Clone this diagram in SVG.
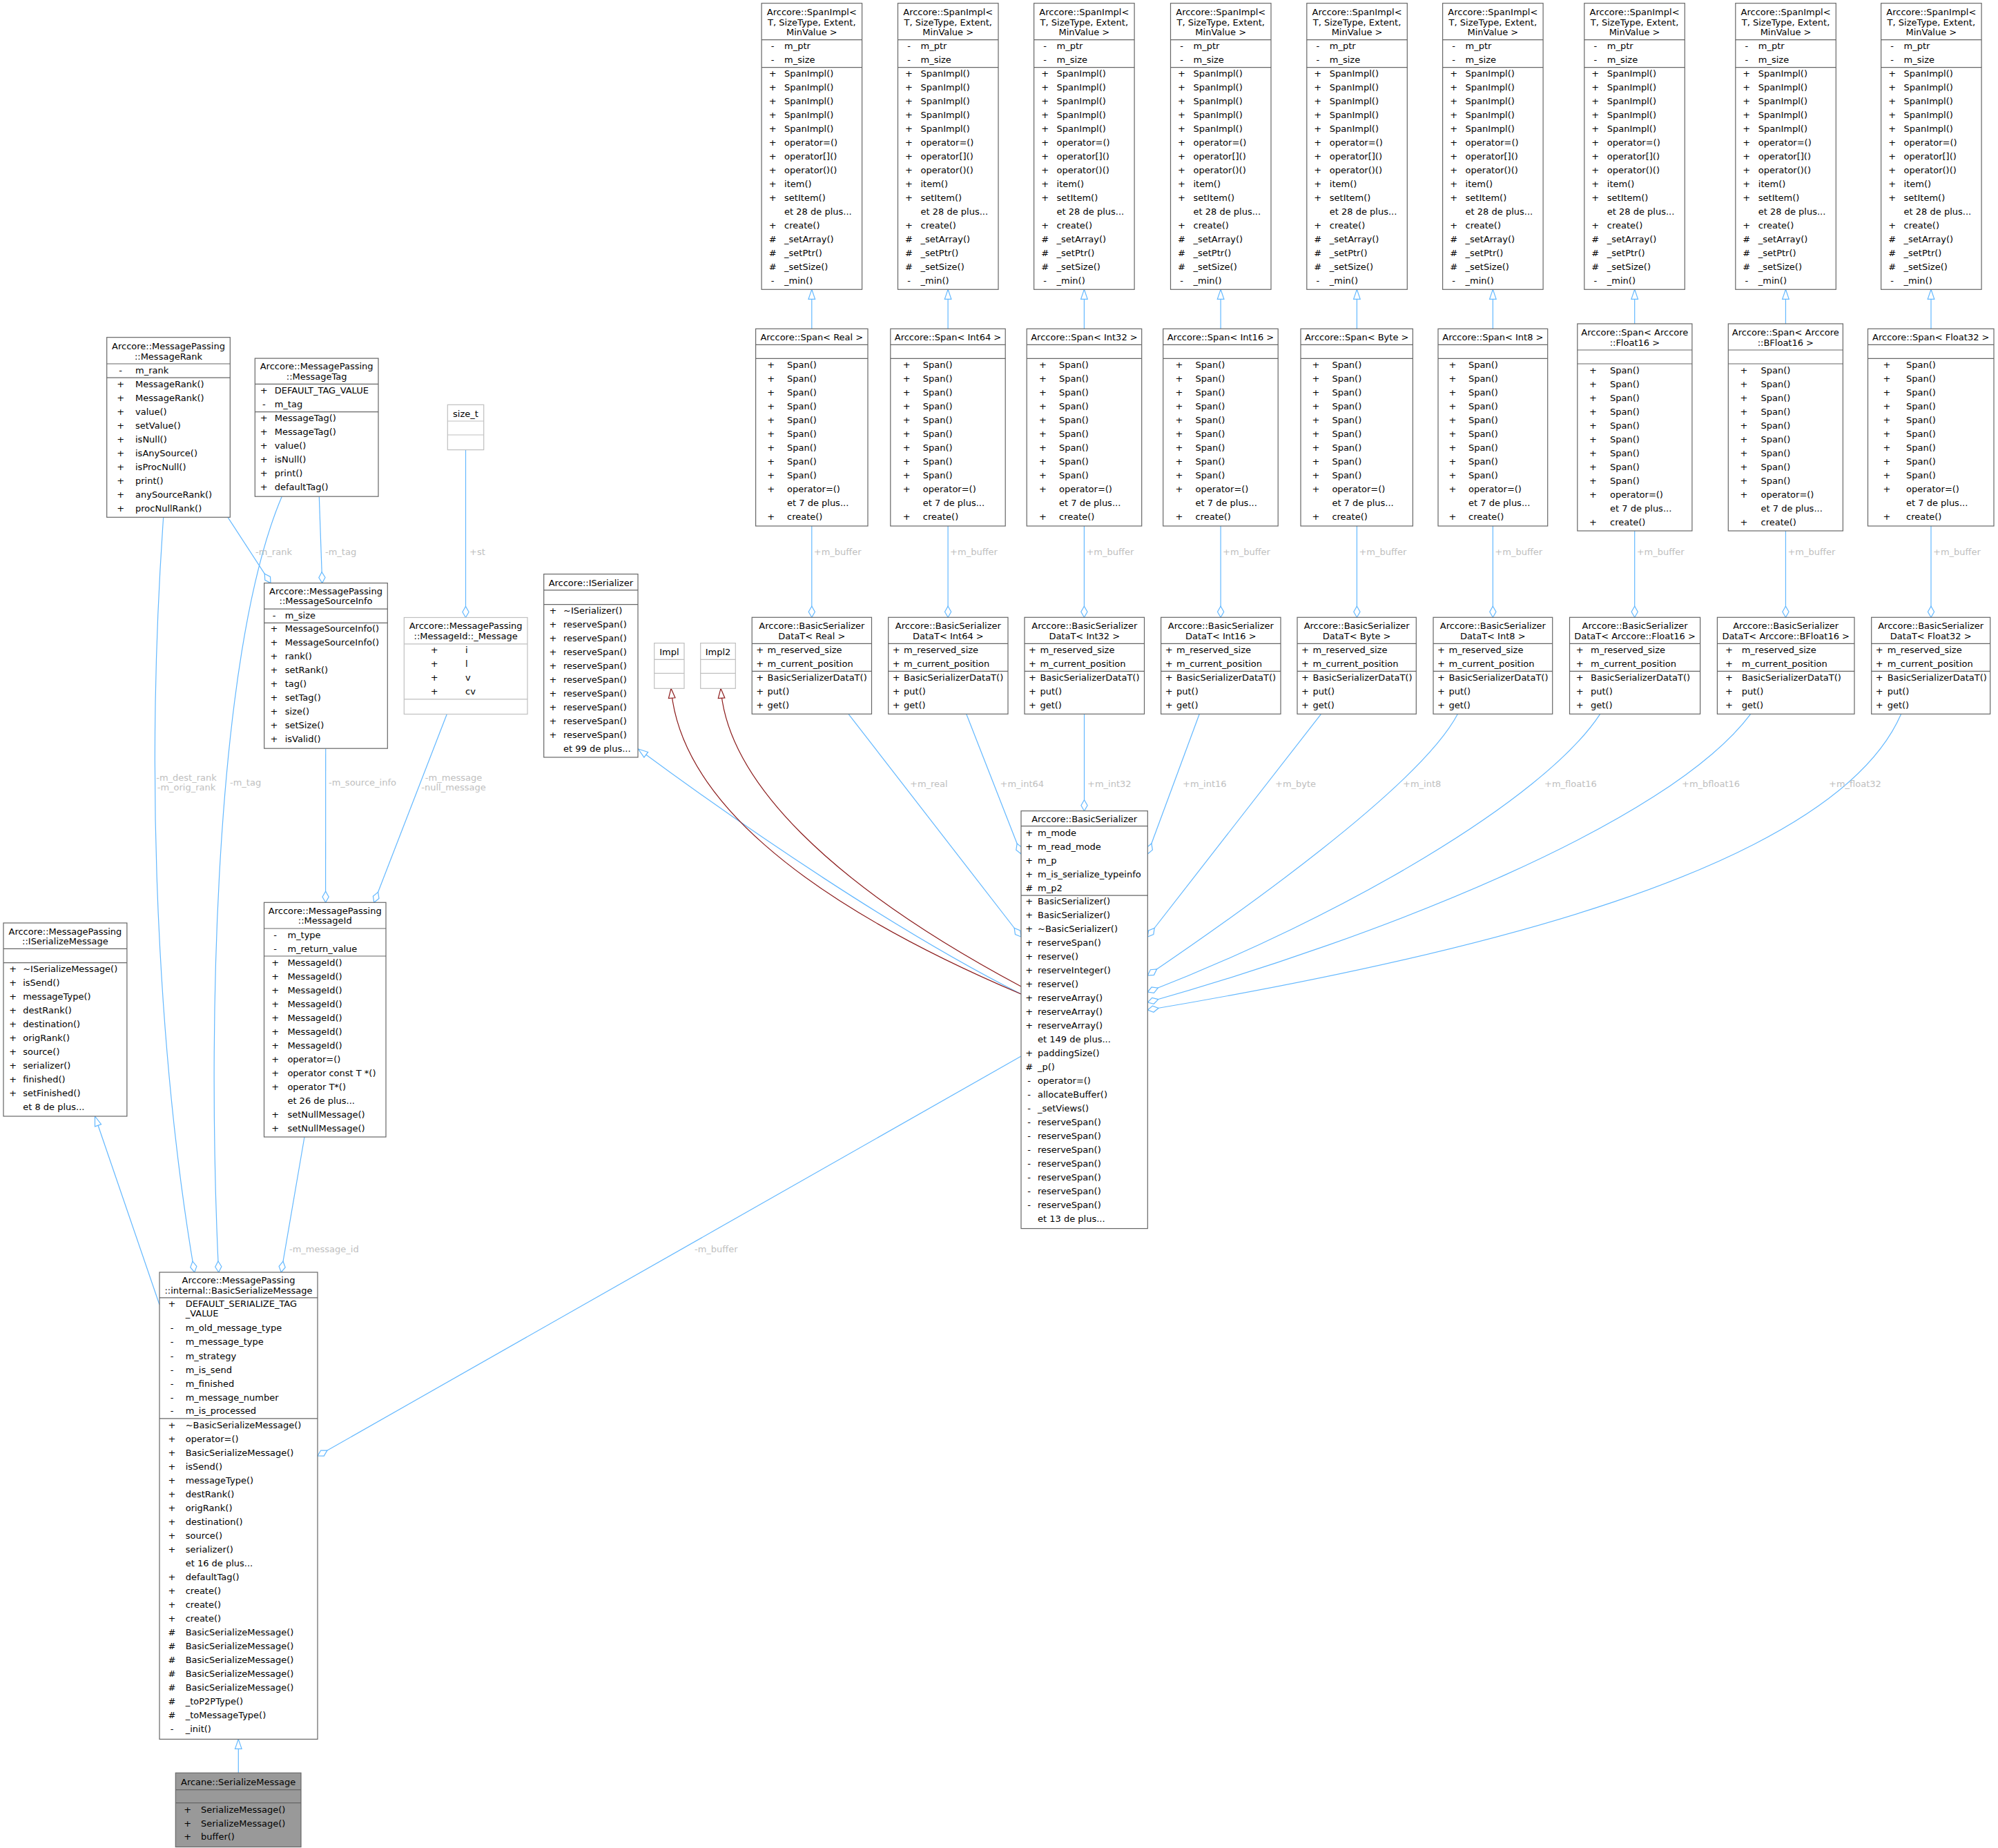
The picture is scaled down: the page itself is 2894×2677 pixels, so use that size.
<svg xmlns="http://www.w3.org/2000/svg" width="2894" height="2677" viewBox="0 0 2894 2677">
<style>
text{font-family:"DejaVu Sans","Liberation Sans",sans-serif;font-size:13px;fill:#000}
.c{text-anchor:middle}
.nb{fill:#fff;stroke:#666;stroke-width:1.2}
.ne{fill:#fff;stroke:#bfbfbf;stroke-width:1.2}
.cur{fill:#999;stroke:#666;stroke-width:1.2}
.sep{stroke:#666;stroke-width:1.2;fill:none}
.sepe{stroke:#bfbfbf;stroke-width:1.2;fill:none}
.e{fill:none;stroke:#63b8ff;stroke-width:1.2}
.er{fill:none;stroke:#8b1a1a;stroke-width:1.2}
.l{fill:#bebebe}
.l.c{fill:#bebebe}
</style>
<defs>
<marker id="inh" markerUnits="userSpaceOnUse" markerWidth="18" markerHeight="14" viewBox="-1 -7 18 14" refX="0" refY="0" orient="auto" overflow="visible"><path d="M0,0L14,-4.8L14,4.8Z" fill="#fff" stroke="#63b8ff" stroke-width="1.2"/></marker>
<marker id="inhr" markerUnits="userSpaceOnUse" markerWidth="18" markerHeight="14" viewBox="-1 -7 18 14" refX="0" refY="0" orient="auto" overflow="visible"><path d="M0,0L14,-4.8L14,4.8Z" fill="#fff" stroke="#8b1a1a" stroke-width="1.2"/></marker>
<marker id="dia" markerUnits="userSpaceOnUse" markerWidth="18" markerHeight="12" viewBox="-1 -6 18 12" refX="0" refY="0" orient="auto" overflow="visible"><path d="M0,0L8,-4.6L16,0L8,4.6Z" fill="#fff" stroke="#63b8ff" stroke-width="1.2"/></marker>
</defs>
<rect width="2894" height="2677" fill="#fff"/>

<g id="edges">
<g class="e" marker-start="url(#inh)">
<path d="M1175.8,419.3V476.3"/><path d="M1373.1,419.3V476.3"/><path d="M1570.4,419.3V476.3"/><path d="M1768.1,419.3V476.3"/><path d="M1965.4,419.3V476.3"/><path d="M2162.35,419.3V476.3"/><path d="M2367.7,419.3V469"/><path d="M2586.45,419.3V469"/><path d="M2797,419.3V476.3"/>
<path d="M924.5,1085C1080,1200 1300,1350 1479,1440"/>
<path d="M137.5,1617L231,1890"/>
<path d="M345.3,2519.4V2568.2"/>
</g>
<g class="er" marker-start="url(#inhr)">
<path d="M972,997.3C985,1150 1150,1300 1479,1440"/>
<path d="M1044,997.3C1054,1130 1200,1280 1479,1429"/>
</g>
<g class="e" marker-start="url(#dia)">
<path d="M1175.8,894.3V762"/><path d="M1373.1,894.3V762"/><path d="M1570.4,894.3V762"/><path d="M1768.1,894.3V762"/><path d="M1965.4,894.3V762"/><path d="M2162.35,894.3V762"/><path d="M2367.7,894.3V769"/><path d="M2586.45,894.3V769"/><path d="M2797,894.3V762"/>
<path d="M1479,1357L1229,1034.3"/>
<path d="M1479,1237L1399.7,1034.3"/>
<path d="M1570.5,1174.7V1034.3"/>
<path d="M1662.3,1237L1737.3,1034.3"/>
<path d="M1662.3,1357L1913.5,1034.3"/>
<path d="M1662.3,1413C1786,1329 2056,1140 2111.4,1034.3"/>
<path d="M1662.3,1437C1941,1329 2235,1160 2317.7,1034.3"/>
<path d="M1662.3,1452C1998,1357 2416,1194 2535.7,1034.3"/>
<path d="M1662.3,1463C2106,1388 2654,1264 2753.7,1034.3"/>
<path d="M460,2109L1479,1530"/>
<path d="M281.7,1843C240,1600 205,1200 236.7,749.3"/>
<path d="M316.7,1843C300,1500 310,950 408.3,719.2"/>
<path d="M392,844.6L330,749.3"/>
<path d="M466.7,844.6L462.3,719.2"/>
<path d="M674.5,894.5V651.6"/>
<path d="M471.6,1307.3L471.7,1084.2"/>
<path d="M541.8,1307.3L647.3,1034.5"/>
<path d="M407.3,1843L441,1647"/>
</g>
<g class="l">
<text class="l" x="1178.8" y="803.8">+m_buffer</text><text class="l" x="1376.1" y="803.8">+m_buffer</text><text class="l" x="1573.4" y="803.8">+m_buffer</text><text class="l" x="1771.1" y="803.8">+m_buffer</text><text class="l" x="1968.4" y="803.8">+m_buffer</text><text class="l" x="2165.35" y="803.8">+m_buffer</text><text class="l" x="2370.7" y="803.8">+m_buffer</text><text class="l" x="2589.45" y="803.8">+m_buffer</text><text class="l" x="2800" y="803.8">+m_buffer</text>
<text class="l" x="1318" y="1139.6">+m_real</text>
<text class="l" x="1448.5" y="1139.6">+m_int64</text>
<text class="l" x="1575" y="1139.6">+m_int32</text>
<text class="l" x="1713" y="1139.6">+m_int16</text>
<text class="l" x="1847" y="1139.6">+m_byte</text>
<text class="l" x="2032" y="1139.6">+m_int8</text>
<text class="l" x="2237" y="1139.6">+m_float16</text>
<text class="l" x="2436" y="1139.6">+m_bfloat16</text>
<text class="l" x="2649" y="1139.6">+m_float32</text>
<text class="l" x="370" y="804">-m_rank</text>
<text class="l" x="471" y="804">-m_tag</text>
<text class="l" x="680" y="804.4">+st</text>
<text class="l c"><tspan x="270" y="1130.6">-m_dest_rank</tspan><tspan x="270" y="1145.2">-m_orig_rank</tspan></text>
<text class="l" x="333" y="1137.6">-m_tag</text>
<text class="l" x="476" y="1137.6">-m_source_info</text>
<text class="l c"><tspan x="657" y="1130.6">-m_message</tspan><tspan x="657" y="1145.2">-null_message</tspan></text>
<text class="l" x="419" y="1813.6">-m_message_id</text>
<text class="l" x="1006" y="1813.6">-m_buffer</text>
</g>
</g>

<g id="spanimpl_real"><rect class="nb" x="1103.1" y="4.7" width="145.5" height="414.6"/><path class="sep" d="M1103.1,57.7h145.5M1103.1,97.7h145.5"/>
<text class="c"><tspan x="1175.85" y="21.9">Arccore::SpanImpl&lt;</tspan><tspan x="1175.85" y="36.9">T, SizeType, Extent,</tspan><tspan x="1175.85" y="51.3">MinValue &gt;</tspan></text>
<text class="c"><tspan x="1119.1" y="71.3">-</tspan><tspan x="1119.1" y="91.3">-</tspan><tspan x="1119.1" y="111.3">+</tspan><tspan x="1119.1" y="131.3">+</tspan><tspan x="1119.1" y="151.3">+</tspan><tspan x="1119.1" y="171.3">+</tspan><tspan x="1119.1" y="191.3">+</tspan><tspan x="1119.1" y="211.3">+</tspan><tspan x="1119.1" y="231.3">+</tspan><tspan x="1119.1" y="251.3">+</tspan><tspan x="1119.1" y="271.3">+</tspan><tspan x="1119.1" y="291.3">+</tspan><tspan x="1119.1" y="331.3">+</tspan><tspan x="1119.1" y="351.3">#</tspan><tspan x="1119.1" y="371.3">#</tspan><tspan x="1119.1" y="391.3">#</tspan><tspan x="1119.1" y="411.3">-</tspan></text>
<text><tspan x="1136.1" y="71.3">m_ptr</tspan><tspan x="1136.1" y="91.3">m_size</tspan><tspan x="1136.1" y="111.3">SpanImpl()</tspan><tspan x="1136.1" y="131.3">SpanImpl()</tspan><tspan x="1136.1" y="151.3">SpanImpl()</tspan><tspan x="1136.1" y="171.3">SpanImpl()</tspan><tspan x="1136.1" y="191.3">SpanImpl()</tspan><tspan x="1136.1" y="211.3">operator=()</tspan><tspan x="1136.1" y="231.3">operator[]()</tspan><tspan x="1136.1" y="251.3">operator()()</tspan><tspan x="1136.1" y="271.3">item()</tspan><tspan x="1136.1" y="291.3">setItem()</tspan><tspan x="1136.1" y="311.3">et 28 de plus...</tspan><tspan x="1136.1" y="331.3">create()</tspan><tspan x="1136.1" y="351.3">_setArray()</tspan><tspan x="1136.1" y="371.3">_setPtr()</tspan><tspan x="1136.1" y="391.3">_setSize()</tspan><tspan x="1136.1" y="411.3">_min()</tspan></text></g>

<g id="spanimpl_int64"><rect class="nb" x="1300.5" y="4.7" width="145.5" height="414.6"/><path class="sep" d="M1300.5,57.7h145.5M1300.5,97.7h145.5"/>
<text class="c"><tspan x="1373.25" y="21.9">Arccore::SpanImpl&lt;</tspan><tspan x="1373.25" y="36.9">T, SizeType, Extent,</tspan><tspan x="1373.25" y="51.3">MinValue &gt;</tspan></text>
<text class="c"><tspan x="1316.5" y="71.3">-</tspan><tspan x="1316.5" y="91.3">-</tspan><tspan x="1316.5" y="111.3">+</tspan><tspan x="1316.5" y="131.3">+</tspan><tspan x="1316.5" y="151.3">+</tspan><tspan x="1316.5" y="171.3">+</tspan><tspan x="1316.5" y="191.3">+</tspan><tspan x="1316.5" y="211.3">+</tspan><tspan x="1316.5" y="231.3">+</tspan><tspan x="1316.5" y="251.3">+</tspan><tspan x="1316.5" y="271.3">+</tspan><tspan x="1316.5" y="291.3">+</tspan><tspan x="1316.5" y="331.3">+</tspan><tspan x="1316.5" y="351.3">#</tspan><tspan x="1316.5" y="371.3">#</tspan><tspan x="1316.5" y="391.3">#</tspan><tspan x="1316.5" y="411.3">-</tspan></text>
<text><tspan x="1333.5" y="71.3">m_ptr</tspan><tspan x="1333.5" y="91.3">m_size</tspan><tspan x="1333.5" y="111.3">SpanImpl()</tspan><tspan x="1333.5" y="131.3">SpanImpl()</tspan><tspan x="1333.5" y="151.3">SpanImpl()</tspan><tspan x="1333.5" y="171.3">SpanImpl()</tspan><tspan x="1333.5" y="191.3">SpanImpl()</tspan><tspan x="1333.5" y="211.3">operator=()</tspan><tspan x="1333.5" y="231.3">operator[]()</tspan><tspan x="1333.5" y="251.3">operator()()</tspan><tspan x="1333.5" y="271.3">item()</tspan><tspan x="1333.5" y="291.3">setItem()</tspan><tspan x="1333.5" y="311.3">et 28 de plus...</tspan><tspan x="1333.5" y="331.3">create()</tspan><tspan x="1333.5" y="351.3">_setArray()</tspan><tspan x="1333.5" y="371.3">_setPtr()</tspan><tspan x="1333.5" y="391.3">_setSize()</tspan><tspan x="1333.5" y="411.3">_min()</tspan></text></g>

<g id="spanimpl_int32"><rect class="nb" x="1497.6" y="4.7" width="145.5" height="414.6"/><path class="sep" d="M1497.6,57.7h145.5M1497.6,97.7h145.5"/>
<text class="c"><tspan x="1570.35" y="21.9">Arccore::SpanImpl&lt;</tspan><tspan x="1570.35" y="36.9">T, SizeType, Extent,</tspan><tspan x="1570.35" y="51.3">MinValue &gt;</tspan></text>
<text class="c"><tspan x="1513.6" y="71.3">-</tspan><tspan x="1513.6" y="91.3">-</tspan><tspan x="1513.6" y="111.3">+</tspan><tspan x="1513.6" y="131.3">+</tspan><tspan x="1513.6" y="151.3">+</tspan><tspan x="1513.6" y="171.3">+</tspan><tspan x="1513.6" y="191.3">+</tspan><tspan x="1513.6" y="211.3">+</tspan><tspan x="1513.6" y="231.3">+</tspan><tspan x="1513.6" y="251.3">+</tspan><tspan x="1513.6" y="271.3">+</tspan><tspan x="1513.6" y="291.3">+</tspan><tspan x="1513.6" y="331.3">+</tspan><tspan x="1513.6" y="351.3">#</tspan><tspan x="1513.6" y="371.3">#</tspan><tspan x="1513.6" y="391.3">#</tspan><tspan x="1513.6" y="411.3">-</tspan></text>
<text><tspan x="1530.6" y="71.3">m_ptr</tspan><tspan x="1530.6" y="91.3">m_size</tspan><tspan x="1530.6" y="111.3">SpanImpl()</tspan><tspan x="1530.6" y="131.3">SpanImpl()</tspan><tspan x="1530.6" y="151.3">SpanImpl()</tspan><tspan x="1530.6" y="171.3">SpanImpl()</tspan><tspan x="1530.6" y="191.3">SpanImpl()</tspan><tspan x="1530.6" y="211.3">operator=()</tspan><tspan x="1530.6" y="231.3">operator[]()</tspan><tspan x="1530.6" y="251.3">operator()()</tspan><tspan x="1530.6" y="271.3">item()</tspan><tspan x="1530.6" y="291.3">setItem()</tspan><tspan x="1530.6" y="311.3">et 28 de plus...</tspan><tspan x="1530.6" y="331.3">create()</tspan><tspan x="1530.6" y="351.3">_setArray()</tspan><tspan x="1530.6" y="371.3">_setPtr()</tspan><tspan x="1530.6" y="391.3">_setSize()</tspan><tspan x="1530.6" y="411.3">_min()</tspan></text></g>

<g id="spanimpl_int16"><rect class="nb" x="1695.5" y="4.7" width="145.5" height="414.6"/><path class="sep" d="M1695.5,57.7h145.5M1695.5,97.7h145.5"/>
<text class="c"><tspan x="1768.25" y="21.9">Arccore::SpanImpl&lt;</tspan><tspan x="1768.25" y="36.9">T, SizeType, Extent,</tspan><tspan x="1768.25" y="51.3">MinValue &gt;</tspan></text>
<text class="c"><tspan x="1711.5" y="71.3">-</tspan><tspan x="1711.5" y="91.3">-</tspan><tspan x="1711.5" y="111.3">+</tspan><tspan x="1711.5" y="131.3">+</tspan><tspan x="1711.5" y="151.3">+</tspan><tspan x="1711.5" y="171.3">+</tspan><tspan x="1711.5" y="191.3">+</tspan><tspan x="1711.5" y="211.3">+</tspan><tspan x="1711.5" y="231.3">+</tspan><tspan x="1711.5" y="251.3">+</tspan><tspan x="1711.5" y="271.3">+</tspan><tspan x="1711.5" y="291.3">+</tspan><tspan x="1711.5" y="331.3">+</tspan><tspan x="1711.5" y="351.3">#</tspan><tspan x="1711.5" y="371.3">#</tspan><tspan x="1711.5" y="391.3">#</tspan><tspan x="1711.5" y="411.3">-</tspan></text>
<text><tspan x="1728.5" y="71.3">m_ptr</tspan><tspan x="1728.5" y="91.3">m_size</tspan><tspan x="1728.5" y="111.3">SpanImpl()</tspan><tspan x="1728.5" y="131.3">SpanImpl()</tspan><tspan x="1728.5" y="151.3">SpanImpl()</tspan><tspan x="1728.5" y="171.3">SpanImpl()</tspan><tspan x="1728.5" y="191.3">SpanImpl()</tspan><tspan x="1728.5" y="211.3">operator=()</tspan><tspan x="1728.5" y="231.3">operator[]()</tspan><tspan x="1728.5" y="251.3">operator()()</tspan><tspan x="1728.5" y="271.3">item()</tspan><tspan x="1728.5" y="291.3">setItem()</tspan><tspan x="1728.5" y="311.3">et 28 de plus...</tspan><tspan x="1728.5" y="331.3">create()</tspan><tspan x="1728.5" y="351.3">_setArray()</tspan><tspan x="1728.5" y="371.3">_setPtr()</tspan><tspan x="1728.5" y="391.3">_setSize()</tspan><tspan x="1728.5" y="411.3">_min()</tspan></text></g>

<g id="spanimpl_byte"><rect class="nb" x="1892.8" y="4.7" width="145.5" height="414.6"/><path class="sep" d="M1892.8,57.7h145.5M1892.8,97.7h145.5"/>
<text class="c"><tspan x="1965.55" y="21.9">Arccore::SpanImpl&lt;</tspan><tspan x="1965.55" y="36.9">T, SizeType, Extent,</tspan><tspan x="1965.55" y="51.3">MinValue &gt;</tspan></text>
<text class="c"><tspan x="1908.8" y="71.3">-</tspan><tspan x="1908.8" y="91.3">-</tspan><tspan x="1908.8" y="111.3">+</tspan><tspan x="1908.8" y="131.3">+</tspan><tspan x="1908.8" y="151.3">+</tspan><tspan x="1908.8" y="171.3">+</tspan><tspan x="1908.8" y="191.3">+</tspan><tspan x="1908.8" y="211.3">+</tspan><tspan x="1908.8" y="231.3">+</tspan><tspan x="1908.8" y="251.3">+</tspan><tspan x="1908.8" y="271.3">+</tspan><tspan x="1908.8" y="291.3">+</tspan><tspan x="1908.8" y="331.3">+</tspan><tspan x="1908.8" y="351.3">#</tspan><tspan x="1908.8" y="371.3">#</tspan><tspan x="1908.8" y="391.3">#</tspan><tspan x="1908.8" y="411.3">-</tspan></text>
<text><tspan x="1925.8" y="71.3">m_ptr</tspan><tspan x="1925.8" y="91.3">m_size</tspan><tspan x="1925.8" y="111.3">SpanImpl()</tspan><tspan x="1925.8" y="131.3">SpanImpl()</tspan><tspan x="1925.8" y="151.3">SpanImpl()</tspan><tspan x="1925.8" y="171.3">SpanImpl()</tspan><tspan x="1925.8" y="191.3">SpanImpl()</tspan><tspan x="1925.8" y="211.3">operator=()</tspan><tspan x="1925.8" y="231.3">operator[]()</tspan><tspan x="1925.8" y="251.3">operator()()</tspan><tspan x="1925.8" y="271.3">item()</tspan><tspan x="1925.8" y="291.3">setItem()</tspan><tspan x="1925.8" y="311.3">et 28 de plus...</tspan><tspan x="1925.8" y="331.3">create()</tspan><tspan x="1925.8" y="351.3">_setArray()</tspan><tspan x="1925.8" y="371.3">_setPtr()</tspan><tspan x="1925.8" y="391.3">_setSize()</tspan><tspan x="1925.8" y="411.3">_min()</tspan></text></g>

<g id="spanimpl_int8"><rect class="nb" x="2089.6" y="4.7" width="145.5" height="414.6"/><path class="sep" d="M2089.6,57.7h145.5M2089.6,97.7h145.5"/>
<text class="c"><tspan x="2162.35" y="21.9">Arccore::SpanImpl&lt;</tspan><tspan x="2162.35" y="36.9">T, SizeType, Extent,</tspan><tspan x="2162.35" y="51.3">MinValue &gt;</tspan></text>
<text class="c"><tspan x="2105.6" y="71.3">-</tspan><tspan x="2105.6" y="91.3">-</tspan><tspan x="2105.6" y="111.3">+</tspan><tspan x="2105.6" y="131.3">+</tspan><tspan x="2105.6" y="151.3">+</tspan><tspan x="2105.6" y="171.3">+</tspan><tspan x="2105.6" y="191.3">+</tspan><tspan x="2105.6" y="211.3">+</tspan><tspan x="2105.6" y="231.3">+</tspan><tspan x="2105.6" y="251.3">+</tspan><tspan x="2105.6" y="271.3">+</tspan><tspan x="2105.6" y="291.3">+</tspan><tspan x="2105.6" y="331.3">+</tspan><tspan x="2105.6" y="351.3">#</tspan><tspan x="2105.6" y="371.3">#</tspan><tspan x="2105.6" y="391.3">#</tspan><tspan x="2105.6" y="411.3">-</tspan></text>
<text><tspan x="2122.6" y="71.3">m_ptr</tspan><tspan x="2122.6" y="91.3">m_size</tspan><tspan x="2122.6" y="111.3">SpanImpl()</tspan><tspan x="2122.6" y="131.3">SpanImpl()</tspan><tspan x="2122.6" y="151.3">SpanImpl()</tspan><tspan x="2122.6" y="171.3">SpanImpl()</tspan><tspan x="2122.6" y="191.3">SpanImpl()</tspan><tspan x="2122.6" y="211.3">operator=()</tspan><tspan x="2122.6" y="231.3">operator[]()</tspan><tspan x="2122.6" y="251.3">operator()()</tspan><tspan x="2122.6" y="271.3">item()</tspan><tspan x="2122.6" y="291.3">setItem()</tspan><tspan x="2122.6" y="311.3">et 28 de plus...</tspan><tspan x="2122.6" y="331.3">create()</tspan><tspan x="2122.6" y="351.3">_setArray()</tspan><tspan x="2122.6" y="371.3">_setPtr()</tspan><tspan x="2122.6" y="391.3">_setSize()</tspan><tspan x="2122.6" y="411.3">_min()</tspan></text></g>

<g id="spanimpl_float16"><rect class="nb" x="2294.8" y="4.7" width="145.5" height="414.6"/><path class="sep" d="M2294.8,57.7h145.5M2294.8,97.7h145.5"/>
<text class="c"><tspan x="2367.55" y="21.9">Arccore::SpanImpl&lt;</tspan><tspan x="2367.55" y="36.9">T, SizeType, Extent,</tspan><tspan x="2367.55" y="51.3">MinValue &gt;</tspan></text>
<text class="c"><tspan x="2310.8" y="71.3">-</tspan><tspan x="2310.8" y="91.3">-</tspan><tspan x="2310.8" y="111.3">+</tspan><tspan x="2310.8" y="131.3">+</tspan><tspan x="2310.8" y="151.3">+</tspan><tspan x="2310.8" y="171.3">+</tspan><tspan x="2310.8" y="191.3">+</tspan><tspan x="2310.8" y="211.3">+</tspan><tspan x="2310.8" y="231.3">+</tspan><tspan x="2310.8" y="251.3">+</tspan><tspan x="2310.8" y="271.3">+</tspan><tspan x="2310.8" y="291.3">+</tspan><tspan x="2310.8" y="331.3">+</tspan><tspan x="2310.8" y="351.3">#</tspan><tspan x="2310.8" y="371.3">#</tspan><tspan x="2310.8" y="391.3">#</tspan><tspan x="2310.8" y="411.3">-</tspan></text>
<text><tspan x="2327.8" y="71.3">m_ptr</tspan><tspan x="2327.8" y="91.3">m_size</tspan><tspan x="2327.8" y="111.3">SpanImpl()</tspan><tspan x="2327.8" y="131.3">SpanImpl()</tspan><tspan x="2327.8" y="151.3">SpanImpl()</tspan><tspan x="2327.8" y="171.3">SpanImpl()</tspan><tspan x="2327.8" y="191.3">SpanImpl()</tspan><tspan x="2327.8" y="211.3">operator=()</tspan><tspan x="2327.8" y="231.3">operator[]()</tspan><tspan x="2327.8" y="251.3">operator()()</tspan><tspan x="2327.8" y="271.3">item()</tspan><tspan x="2327.8" y="291.3">setItem()</tspan><tspan x="2327.8" y="311.3">et 28 de plus...</tspan><tspan x="2327.8" y="331.3">create()</tspan><tspan x="2327.8" y="351.3">_setArray()</tspan><tspan x="2327.8" y="371.3">_setPtr()</tspan><tspan x="2327.8" y="391.3">_setSize()</tspan><tspan x="2327.8" y="411.3">_min()</tspan></text></g>

<g id="spanimpl_bfloat16"><rect class="nb" x="2513.8" y="4.7" width="145.5" height="414.6"/><path class="sep" d="M2513.8,57.7h145.5M2513.8,97.7h145.5"/>
<text class="c"><tspan x="2586.55" y="21.9">Arccore::SpanImpl&lt;</tspan><tspan x="2586.55" y="36.9">T, SizeType, Extent,</tspan><tspan x="2586.55" y="51.3">MinValue &gt;</tspan></text>
<text class="c"><tspan x="2529.8" y="71.3">-</tspan><tspan x="2529.8" y="91.3">-</tspan><tspan x="2529.8" y="111.3">+</tspan><tspan x="2529.8" y="131.3">+</tspan><tspan x="2529.8" y="151.3">+</tspan><tspan x="2529.8" y="171.3">+</tspan><tspan x="2529.8" y="191.3">+</tspan><tspan x="2529.8" y="211.3">+</tspan><tspan x="2529.8" y="231.3">+</tspan><tspan x="2529.8" y="251.3">+</tspan><tspan x="2529.8" y="271.3">+</tspan><tspan x="2529.8" y="291.3">+</tspan><tspan x="2529.8" y="331.3">+</tspan><tspan x="2529.8" y="351.3">#</tspan><tspan x="2529.8" y="371.3">#</tspan><tspan x="2529.8" y="391.3">#</tspan><tspan x="2529.8" y="411.3">-</tspan></text>
<text><tspan x="2546.8" y="71.3">m_ptr</tspan><tspan x="2546.8" y="91.3">m_size</tspan><tspan x="2546.8" y="111.3">SpanImpl()</tspan><tspan x="2546.8" y="131.3">SpanImpl()</tspan><tspan x="2546.8" y="151.3">SpanImpl()</tspan><tspan x="2546.8" y="171.3">SpanImpl()</tspan><tspan x="2546.8" y="191.3">SpanImpl()</tspan><tspan x="2546.8" y="211.3">operator=()</tspan><tspan x="2546.8" y="231.3">operator[]()</tspan><tspan x="2546.8" y="251.3">operator()()</tspan><tspan x="2546.8" y="271.3">item()</tspan><tspan x="2546.8" y="291.3">setItem()</tspan><tspan x="2546.8" y="311.3">et 28 de plus...</tspan><tspan x="2546.8" y="331.3">create()</tspan><tspan x="2546.8" y="351.3">_setArray()</tspan><tspan x="2546.8" y="371.3">_setPtr()</tspan><tspan x="2546.8" y="391.3">_setSize()</tspan><tspan x="2546.8" y="411.3">_min()</tspan></text></g>

<g id="spanimpl_float32"><rect class="nb" x="2724.6" y="4.7" width="145.5" height="414.6"/><path class="sep" d="M2724.6,57.7h145.5M2724.6,97.7h145.5"/>
<text class="c"><tspan x="2797.35" y="21.9">Arccore::SpanImpl&lt;</tspan><tspan x="2797.35" y="36.9">T, SizeType, Extent,</tspan><tspan x="2797.35" y="51.3">MinValue &gt;</tspan></text>
<text class="c"><tspan x="2740.6" y="71.3">-</tspan><tspan x="2740.6" y="91.3">-</tspan><tspan x="2740.6" y="111.3">+</tspan><tspan x="2740.6" y="131.3">+</tspan><tspan x="2740.6" y="151.3">+</tspan><tspan x="2740.6" y="171.3">+</tspan><tspan x="2740.6" y="191.3">+</tspan><tspan x="2740.6" y="211.3">+</tspan><tspan x="2740.6" y="231.3">+</tspan><tspan x="2740.6" y="251.3">+</tspan><tspan x="2740.6" y="271.3">+</tspan><tspan x="2740.6" y="291.3">+</tspan><tspan x="2740.6" y="331.3">+</tspan><tspan x="2740.6" y="351.3">#</tspan><tspan x="2740.6" y="371.3">#</tspan><tspan x="2740.6" y="391.3">#</tspan><tspan x="2740.6" y="411.3">-</tspan></text>
<text><tspan x="2757.6" y="71.3">m_ptr</tspan><tspan x="2757.6" y="91.3">m_size</tspan><tspan x="2757.6" y="111.3">SpanImpl()</tspan><tspan x="2757.6" y="131.3">SpanImpl()</tspan><tspan x="2757.6" y="151.3">SpanImpl()</tspan><tspan x="2757.6" y="171.3">SpanImpl()</tspan><tspan x="2757.6" y="191.3">SpanImpl()</tspan><tspan x="2757.6" y="211.3">operator=()</tspan><tspan x="2757.6" y="231.3">operator[]()</tspan><tspan x="2757.6" y="251.3">operator()()</tspan><tspan x="2757.6" y="271.3">item()</tspan><tspan x="2757.6" y="291.3">setItem()</tspan><tspan x="2757.6" y="311.3">et 28 de plus...</tspan><tspan x="2757.6" y="331.3">create()</tspan><tspan x="2757.6" y="351.3">_setArray()</tspan><tspan x="2757.6" y="371.3">_setPtr()</tspan><tspan x="2757.6" y="391.3">_setSize()</tspan><tspan x="2757.6" y="411.3">_min()</tspan></text></g>

<g id="span_real"><rect class="nb" x="1094.6" y="476.3" width="162.4" height="285.7"/><path class="sep" d="M1094.6,499.3h162.4M1094.6,519.3h162.4"/>
<text class="c" x="1175.8" y="492.9">Arccore::Span&lt; Real &gt;</text>
<text class="c"><tspan x="1116.6" y="532.9">+</tspan><tspan x="1116.6" y="552.9">+</tspan><tspan x="1116.6" y="572.9">+</tspan><tspan x="1116.6" y="592.9">+</tspan><tspan x="1116.6" y="612.9">+</tspan><tspan x="1116.6" y="632.9">+</tspan><tspan x="1116.6" y="652.9">+</tspan><tspan x="1116.6" y="672.9">+</tspan><tspan x="1116.6" y="692.9">+</tspan><tspan x="1116.6" y="712.9">+</tspan><tspan x="1116.6" y="752.9">+</tspan></text>
<text><tspan x="1140" y="532.9">Span()</tspan><tspan x="1140" y="552.9">Span()</tspan><tspan x="1140" y="572.9">Span()</tspan><tspan x="1140" y="592.9">Span()</tspan><tspan x="1140" y="612.9">Span()</tspan><tspan x="1140" y="632.9">Span()</tspan><tspan x="1140" y="652.9">Span()</tspan><tspan x="1140" y="672.9">Span()</tspan><tspan x="1140" y="692.9">Span()</tspan><tspan x="1140" y="712.9">operator=()</tspan><tspan x="1140" y="732.9">et 7 de plus...</tspan><tspan x="1140" y="752.9">create()</tspan></text></g>

<g id="span_int64"><rect class="nb" x="1289.8" y="476.3" width="166.4" height="285.7"/><path class="sep" d="M1289.8,499.3h166.4M1289.8,519.3h166.4"/>
<text class="c" x="1373" y="492.9">Arccore::Span&lt; Int64 &gt;</text>
<text class="c"><tspan x="1313.3" y="532.9">+</tspan><tspan x="1313.3" y="552.9">+</tspan><tspan x="1313.3" y="572.9">+</tspan><tspan x="1313.3" y="592.9">+</tspan><tspan x="1313.3" y="612.9">+</tspan><tspan x="1313.3" y="632.9">+</tspan><tspan x="1313.3" y="652.9">+</tspan><tspan x="1313.3" y="672.9">+</tspan><tspan x="1313.3" y="692.9">+</tspan><tspan x="1313.3" y="712.9">+</tspan><tspan x="1313.3" y="752.9">+</tspan></text>
<text><tspan x="1336.8" y="532.9">Span()</tspan><tspan x="1336.8" y="552.9">Span()</tspan><tspan x="1336.8" y="572.9">Span()</tspan><tspan x="1336.8" y="592.9">Span()</tspan><tspan x="1336.8" y="612.9">Span()</tspan><tspan x="1336.8" y="632.9">Span()</tspan><tspan x="1336.8" y="652.9">Span()</tspan><tspan x="1336.8" y="672.9">Span()</tspan><tspan x="1336.8" y="692.9">Span()</tspan><tspan x="1336.8" y="712.9">operator=()</tspan><tspan x="1336.8" y="732.9">et 7 de plus...</tspan><tspan x="1336.8" y="752.9">create()</tspan></text></g>

<g id="span_int32"><rect class="nb" x="1487.2" y="476.3" width="166.5" height="285.7"/><path class="sep" d="M1487.2,499.3h166.5M1487.2,519.3h166.5"/>
<text class="c" x="1570.45" y="492.9">Arccore::Span&lt; Int32 &gt;</text>
<text class="c"><tspan x="1510.5" y="532.9">+</tspan><tspan x="1510.5" y="552.9">+</tspan><tspan x="1510.5" y="572.9">+</tspan><tspan x="1510.5" y="592.9">+</tspan><tspan x="1510.5" y="612.9">+</tspan><tspan x="1510.5" y="632.9">+</tspan><tspan x="1510.5" y="652.9">+</tspan><tspan x="1510.5" y="672.9">+</tspan><tspan x="1510.5" y="692.9">+</tspan><tspan x="1510.5" y="712.9">+</tspan><tspan x="1510.5" y="752.9">+</tspan></text>
<text><tspan x="1534" y="532.9">Span()</tspan><tspan x="1534" y="552.9">Span()</tspan><tspan x="1534" y="572.9">Span()</tspan><tspan x="1534" y="592.9">Span()</tspan><tspan x="1534" y="612.9">Span()</tspan><tspan x="1534" y="632.9">Span()</tspan><tspan x="1534" y="652.9">Span()</tspan><tspan x="1534" y="672.9">Span()</tspan><tspan x="1534" y="692.9">Span()</tspan><tspan x="1534" y="712.9">operator=()</tspan><tspan x="1534" y="732.9">et 7 de plus...</tspan><tspan x="1534" y="752.9">create()</tspan></text></g>

<g id="span_int16"><rect class="nb" x="1684.7" y="476.3" width="166.5" height="285.7"/><path class="sep" d="M1684.7,499.3h166.5M1684.7,519.3h166.5"/>
<text class="c" x="1767.95" y="492.9">Arccore::Span&lt; Int16 &gt;</text>
<text class="c"><tspan x="1708" y="532.9">+</tspan><tspan x="1708" y="552.9">+</tspan><tspan x="1708" y="572.9">+</tspan><tspan x="1708" y="592.9">+</tspan><tspan x="1708" y="612.9">+</tspan><tspan x="1708" y="632.9">+</tspan><tspan x="1708" y="652.9">+</tspan><tspan x="1708" y="672.9">+</tspan><tspan x="1708" y="692.9">+</tspan><tspan x="1708" y="712.9">+</tspan><tspan x="1708" y="752.9">+</tspan></text>
<text><tspan x="1731.5" y="532.9">Span()</tspan><tspan x="1731.5" y="552.9">Span()</tspan><tspan x="1731.5" y="572.9">Span()</tspan><tspan x="1731.5" y="592.9">Span()</tspan><tspan x="1731.5" y="612.9">Span()</tspan><tspan x="1731.5" y="632.9">Span()</tspan><tspan x="1731.5" y="652.9">Span()</tspan><tspan x="1731.5" y="672.9">Span()</tspan><tspan x="1731.5" y="692.9">Span()</tspan><tspan x="1731.5" y="712.9">operator=()</tspan><tspan x="1731.5" y="732.9">et 7 de plus...</tspan><tspan x="1731.5" y="752.9">create()</tspan></text></g>

<g id="span_byte"><rect class="nb" x="1884" y="476.3" width="162.4" height="285.7"/><path class="sep" d="M1884,499.3h162.4M1884,519.3h162.4"/>
<text class="c" x="1965.2" y="492.9">Arccore::Span&lt; Byte &gt;</text>
<text class="c"><tspan x="1906" y="532.9">+</tspan><tspan x="1906" y="552.9">+</tspan><tspan x="1906" y="572.9">+</tspan><tspan x="1906" y="592.9">+</tspan><tspan x="1906" y="612.9">+</tspan><tspan x="1906" y="632.9">+</tspan><tspan x="1906" y="652.9">+</tspan><tspan x="1906" y="672.9">+</tspan><tspan x="1906" y="692.9">+</tspan><tspan x="1906" y="712.9">+</tspan><tspan x="1906" y="752.9">+</tspan></text>
<text><tspan x="1929.4" y="532.9">Span()</tspan><tspan x="1929.4" y="552.9">Span()</tspan><tspan x="1929.4" y="572.9">Span()</tspan><tspan x="1929.4" y="592.9">Span()</tspan><tspan x="1929.4" y="612.9">Span()</tspan><tspan x="1929.4" y="632.9">Span()</tspan><tspan x="1929.4" y="652.9">Span()</tspan><tspan x="1929.4" y="672.9">Span()</tspan><tspan x="1929.4" y="692.9">Span()</tspan><tspan x="1929.4" y="712.9">operator=()</tspan><tspan x="1929.4" y="732.9">et 7 de plus...</tspan><tspan x="1929.4" y="752.9">create()</tspan></text></g>

<g id="span_int8"><rect class="nb" x="2083" y="476.3" width="158.7" height="285.7"/><path class="sep" d="M2083,499.3h158.7M2083,519.3h158.7"/>
<text class="c" x="2162.35" y="492.9">Arccore::Span&lt; Int8 &gt;</text>
<text class="c"><tspan x="2104" y="532.9">+</tspan><tspan x="2104" y="552.9">+</tspan><tspan x="2104" y="572.9">+</tspan><tspan x="2104" y="592.9">+</tspan><tspan x="2104" y="612.9">+</tspan><tspan x="2104" y="632.9">+</tspan><tspan x="2104" y="652.9">+</tspan><tspan x="2104" y="672.9">+</tspan><tspan x="2104" y="692.9">+</tspan><tspan x="2104" y="712.9">+</tspan><tspan x="2104" y="752.9">+</tspan></text>
<text><tspan x="2127" y="532.9">Span()</tspan><tspan x="2127" y="552.9">Span()</tspan><tspan x="2127" y="572.9">Span()</tspan><tspan x="2127" y="592.9">Span()</tspan><tspan x="2127" y="612.9">Span()</tspan><tspan x="2127" y="632.9">Span()</tspan><tspan x="2127" y="652.9">Span()</tspan><tspan x="2127" y="672.9">Span()</tspan><tspan x="2127" y="692.9">Span()</tspan><tspan x="2127" y="712.9">operator=()</tspan><tspan x="2127" y="732.9">et 7 de plus...</tspan><tspan x="2127" y="752.9">create()</tspan></text></g>

<g id="span_float16"><rect class="nb" x="2284.8" y="469" width="166.1" height="300"/><path class="sep" d="M2284.8,507h166.1M2284.8,527h166.1"/>
<text class="c"><tspan x="2367.85" y="486.3">Arccore::Span&lt; Arccore</tspan><tspan x="2367.85" y="500.6">::Float16 &gt;</tspan></text>
<text class="c"><tspan x="2307.5" y="540.9">+</tspan><tspan x="2307.5" y="560.9">+</tspan><tspan x="2307.5" y="580.9">+</tspan><tspan x="2307.5" y="600.9">+</tspan><tspan x="2307.5" y="620.9">+</tspan><tspan x="2307.5" y="640.9">+</tspan><tspan x="2307.5" y="660.9">+</tspan><tspan x="2307.5" y="680.9">+</tspan><tspan x="2307.5" y="700.9">+</tspan><tspan x="2307.5" y="720.9">+</tspan><tspan x="2307.5" y="760.9">+</tspan></text>
<text><tspan x="2332" y="540.9">Span()</tspan><tspan x="2332" y="560.9">Span()</tspan><tspan x="2332" y="580.9">Span()</tspan><tspan x="2332" y="600.9">Span()</tspan><tspan x="2332" y="620.9">Span()</tspan><tspan x="2332" y="640.9">Span()</tspan><tspan x="2332" y="660.9">Span()</tspan><tspan x="2332" y="680.9">Span()</tspan><tspan x="2332" y="700.9">Span()</tspan><tspan x="2332" y="720.9">operator=()</tspan><tspan x="2332" y="740.9">et 7 de plus...</tspan><tspan x="2332" y="760.9">create()</tspan></text></g>

<g id="span_bfloat16"><rect class="nb" x="2503.3" y="469" width="166.1" height="300"/><path class="sep" d="M2503.3,507h166.1M2503.3,527h166.1"/>
<text class="c"><tspan x="2586.35" y="486.3">Arccore::Span&lt; Arccore</tspan><tspan x="2586.35" y="500.6">::BFloat16 &gt;</tspan></text>
<text class="c"><tspan x="2526" y="540.9">+</tspan><tspan x="2526" y="560.9">+</tspan><tspan x="2526" y="580.9">+</tspan><tspan x="2526" y="600.9">+</tspan><tspan x="2526" y="620.9">+</tspan><tspan x="2526" y="640.9">+</tspan><tspan x="2526" y="660.9">+</tspan><tspan x="2526" y="680.9">+</tspan><tspan x="2526" y="700.9">+</tspan><tspan x="2526" y="720.9">+</tspan><tspan x="2526" y="760.9">+</tspan></text>
<text><tspan x="2550.5" y="540.9">Span()</tspan><tspan x="2550.5" y="560.9">Span()</tspan><tspan x="2550.5" y="580.9">Span()</tspan><tspan x="2550.5" y="600.9">Span()</tspan><tspan x="2550.5" y="620.9">Span()</tspan><tspan x="2550.5" y="640.9">Span()</tspan><tspan x="2550.5" y="660.9">Span()</tspan><tspan x="2550.5" y="680.9">Span()</tspan><tspan x="2550.5" y="700.9">Span()</tspan><tspan x="2550.5" y="720.9">operator=()</tspan><tspan x="2550.5" y="740.9">et 7 de plus...</tspan><tspan x="2550.5" y="760.9">create()</tspan></text></g>

<g id="span_float32"><rect class="nb" x="2705.5" y="476.3" width="182.5" height="285.7"/><path class="sep" d="M2705.5,499.3h182.5M2705.5,519.3h182.5"/>
<text class="c" x="2796.75" y="492.9">Arccore::Span&lt; Float32 &gt;</text>
<text class="c"><tspan x="2733" y="532.9">+</tspan><tspan x="2733" y="552.9">+</tspan><tspan x="2733" y="572.9">+</tspan><tspan x="2733" y="592.9">+</tspan><tspan x="2733" y="612.9">+</tspan><tspan x="2733" y="632.9">+</tspan><tspan x="2733" y="652.9">+</tspan><tspan x="2733" y="672.9">+</tspan><tspan x="2733" y="692.9">+</tspan><tspan x="2733" y="712.9">+</tspan><tspan x="2733" y="752.9">+</tspan></text>
<text><tspan x="2761" y="532.9">Span()</tspan><tspan x="2761" y="552.9">Span()</tspan><tspan x="2761" y="572.9">Span()</tspan><tspan x="2761" y="592.9">Span()</tspan><tspan x="2761" y="612.9">Span()</tspan><tspan x="2761" y="632.9">Span()</tspan><tspan x="2761" y="652.9">Span()</tspan><tspan x="2761" y="672.9">Span()</tspan><tspan x="2761" y="692.9">Span()</tspan><tspan x="2761" y="712.9">operator=()</tspan><tspan x="2761" y="732.9">et 7 de plus...</tspan><tspan x="2761" y="752.9">create()</tspan></text></g>

<g id="datat_real"><rect class="nb" x="1089.2" y="894.3" width="173.3" height="140"/><path class="sep" d="M1089.2,932.3h173.3M1089.2,972.3h173.3"/>
<text class="c"><tspan x="1175.85" y="911.3">Arccore::BasicSerializer</tspan><tspan x="1175.85" y="926.3">DataT&lt; Real &gt;</tspan></text>
<text class="c"><tspan x="1100.7" y="946.3">+</tspan><tspan x="1100.7" y="966.3">+</tspan><tspan x="1100.7" y="986.3">+</tspan><tspan x="1100.7" y="1006.3">+</tspan><tspan x="1100.7" y="1026.3">+</tspan></text>
<text><tspan x="1111.6" y="946.3">m_reserved_size</tspan><tspan x="1111.6" y="966.3">m_current_position</tspan><tspan x="1111.6" y="986.3">BasicSerializerDataT()</tspan><tspan x="1111.6" y="1006.3">put()</tspan><tspan x="1111.6" y="1026.3">get()</tspan></text></g>

<g id="datat_int64"><rect class="nb" x="1286.7" y="894.3" width="173.3" height="140"/><path class="sep" d="M1286.7,932.3h173.3M1286.7,972.3h173.3"/>
<text class="c"><tspan x="1373.35" y="911.3">Arccore::BasicSerializer</tspan><tspan x="1373.35" y="926.3">DataT&lt; Int64 &gt;</tspan></text>
<text class="c"><tspan x="1298.2" y="946.3">+</tspan><tspan x="1298.2" y="966.3">+</tspan><tspan x="1298.2" y="986.3">+</tspan><tspan x="1298.2" y="1006.3">+</tspan><tspan x="1298.2" y="1026.3">+</tspan></text>
<text><tspan x="1309.1" y="946.3">m_reserved_size</tspan><tspan x="1309.1" y="966.3">m_current_position</tspan><tspan x="1309.1" y="986.3">BasicSerializerDataT()</tspan><tspan x="1309.1" y="1006.3">put()</tspan><tspan x="1309.1" y="1026.3">get()</tspan></text></g>

<g id="datat_int32"><rect class="nb" x="1484" y="894.3" width="173.5" height="140"/><path class="sep" d="M1484,932.3h173.5M1484,972.3h173.5"/>
<text class="c"><tspan x="1570.75" y="911.3">Arccore::BasicSerializer</tspan><tspan x="1570.75" y="926.3">DataT&lt; Int32 &gt;</tspan></text>
<text class="c"><tspan x="1495.5" y="946.3">+</tspan><tspan x="1495.5" y="966.3">+</tspan><tspan x="1495.5" y="986.3">+</tspan><tspan x="1495.5" y="1006.3">+</tspan><tspan x="1495.5" y="1026.3">+</tspan></text>
<text><tspan x="1506.4" y="946.3">m_reserved_size</tspan><tspan x="1506.4" y="966.3">m_current_position</tspan><tspan x="1506.4" y="986.3">BasicSerializerDataT()</tspan><tspan x="1506.4" y="1006.3">put()</tspan><tspan x="1506.4" y="1026.3">get()</tspan></text></g>

<g id="datat_int16"><rect class="nb" x="1681.6" y="894.3" width="173.4" height="140"/><path class="sep" d="M1681.6,932.3h173.4M1681.6,972.3h173.4"/>
<text class="c"><tspan x="1768.3" y="911.3">Arccore::BasicSerializer</tspan><tspan x="1768.3" y="926.3">DataT&lt; Int16 &gt;</tspan></text>
<text class="c"><tspan x="1693.1" y="946.3">+</tspan><tspan x="1693.1" y="966.3">+</tspan><tspan x="1693.1" y="986.3">+</tspan><tspan x="1693.1" y="1006.3">+</tspan><tspan x="1693.1" y="1026.3">+</tspan></text>
<text><tspan x="1704" y="946.3">m_reserved_size</tspan><tspan x="1704" y="966.3">m_current_position</tspan><tspan x="1704" y="986.3">BasicSerializerDataT()</tspan><tspan x="1704" y="1006.3">put()</tspan><tspan x="1704" y="1026.3">get()</tspan></text></g>

<g id="datat_byte"><rect class="nb" x="1879" y="894.3" width="172.3" height="140"/><path class="sep" d="M1879,932.3h172.3M1879,972.3h172.3"/>
<text class="c"><tspan x="1965.15" y="911.3">Arccore::BasicSerializer</tspan><tspan x="1965.15" y="926.3">DataT&lt; Byte &gt;</tspan></text>
<text class="c"><tspan x="1890.5" y="946.3">+</tspan><tspan x="1890.5" y="966.3">+</tspan><tspan x="1890.5" y="986.3">+</tspan><tspan x="1890.5" y="1006.3">+</tspan><tspan x="1890.5" y="1026.3">+</tspan></text>
<text><tspan x="1901.4" y="946.3">m_reserved_size</tspan><tspan x="1901.4" y="966.3">m_current_position</tspan><tspan x="1901.4" y="986.3">BasicSerializerDataT()</tspan><tspan x="1901.4" y="1006.3">put()</tspan><tspan x="1901.4" y="1026.3">get()</tspan></text></g>

<g id="datat_int8"><rect class="nb" x="2076" y="894.3" width="172.7" height="140"/><path class="sep" d="M2076,932.3h172.7M2076,972.3h172.7"/>
<text class="c"><tspan x="2162.35" y="911.3">Arccore::BasicSerializer</tspan><tspan x="2162.35" y="926.3">DataT&lt; Int8 &gt;</tspan></text>
<text class="c"><tspan x="2087.5" y="946.3">+</tspan><tspan x="2087.5" y="966.3">+</tspan><tspan x="2087.5" y="986.3">+</tspan><tspan x="2087.5" y="1006.3">+</tspan><tspan x="2087.5" y="1026.3">+</tspan></text>
<text><tspan x="2098.4" y="946.3">m_reserved_size</tspan><tspan x="2098.4" y="966.3">m_current_position</tspan><tspan x="2098.4" y="986.3">BasicSerializerDataT()</tspan><tspan x="2098.4" y="1006.3">put()</tspan><tspan x="2098.4" y="1026.3">get()</tspan></text></g>

<g id="datat_float16"><rect class="nb" x="2273.5" y="894.3" width="189.1" height="140"/><path class="sep" d="M2273.5,932.3h189.1M2273.5,972.3h189.1"/>
<text class="c"><tspan x="2368.05" y="911.3">Arccore::BasicSerializer</tspan><tspan x="2368.05" y="926.3">DataT&lt; Arccore::Float16 &gt;</tspan></text>
<text class="c"><tspan x="2288.2" y="946.3">+</tspan><tspan x="2288.2" y="966.3">+</tspan><tspan x="2288.2" y="986.3">+</tspan><tspan x="2288.2" y="1006.3">+</tspan><tspan x="2288.2" y="1026.3">+</tspan></text>
<text><tspan x="2304" y="946.3">m_reserved_size</tspan><tspan x="2304" y="966.3">m_current_position</tspan><tspan x="2304" y="986.3">BasicSerializerDataT()</tspan><tspan x="2304" y="1006.3">put()</tspan><tspan x="2304" y="1026.3">get()</tspan></text></g>

<g id="datat_bfloat16"><rect class="nb" x="2487.4" y="894.3" width="198.6" height="140"/><path class="sep" d="M2487.4,932.3h198.6M2487.4,972.3h198.6"/>
<text class="c"><tspan x="2586.7" y="911.3">Arccore::BasicSerializer</tspan><tspan x="2586.7" y="926.3">DataT&lt; Arccore::BFloat16 &gt;</tspan></text>
<text class="c"><tspan x="2504.5" y="946.3">+</tspan><tspan x="2504.5" y="966.3">+</tspan><tspan x="2504.5" y="986.3">+</tspan><tspan x="2504.5" y="1006.3">+</tspan><tspan x="2504.5" y="1026.3">+</tspan></text>
<text><tspan x="2522.7" y="946.3">m_reserved_size</tspan><tspan x="2522.7" y="966.3">m_current_position</tspan><tspan x="2522.7" y="986.3">BasicSerializerDataT()</tspan><tspan x="2522.7" y="1006.3">put()</tspan><tspan x="2522.7" y="1026.3">get()</tspan></text></g>

<g id="datat_float32"><rect class="nb" x="2710.7" y="894.3" width="172" height="140"/><path class="sep" d="M2710.7,932.3h172M2710.7,972.3h172"/>
<text class="c"><tspan x="2796.7" y="911.3">Arccore::BasicSerializer</tspan><tspan x="2796.7" y="926.3">DataT&lt; Float32 &gt;</tspan></text>
<text class="c"><tspan x="2722.2" y="946.3">+</tspan><tspan x="2722.2" y="966.3">+</tspan><tspan x="2722.2" y="986.3">+</tspan><tspan x="2722.2" y="1006.3">+</tspan><tspan x="2722.2" y="1026.3">+</tspan></text>
<text><tspan x="2733.7" y="946.3">m_reserved_size</tspan><tspan x="2733.7" y="966.3">m_current_position</tspan><tspan x="2733.7" y="986.3">BasicSerializerDataT()</tspan><tspan x="2733.7" y="1006.3">put()</tspan><tspan x="2733.7" y="1026.3">get()</tspan></text></g>

<g id="basicserializer"><rect class="nb" x="1479" y="1174.7" width="183.3" height="604.9"/><path class="sep" d="M1479,1196.7h183.3M1479,1297.1h183.3"/>
<text class="c" x="1570.65" y="1190.7">Arccore::BasicSerializer</text>
<text class="c"><tspan x="1490.7" y="1210.7">+</tspan><tspan x="1490.7" y="1230.7">+</tspan><tspan x="1490.7" y="1250.7">+</tspan><tspan x="1490.7" y="1270.7">+</tspan><tspan x="1490.7" y="1290.7">#</tspan><tspan x="1490.7" y="1310.3">+</tspan><tspan x="1490.7" y="1330.3">+</tspan><tspan x="1490.7" y="1350.3">+</tspan><tspan x="1490.7" y="1370.3">+</tspan><tspan x="1490.7" y="1390.3">+</tspan><tspan x="1490.7" y="1410.3">+</tspan><tspan x="1490.7" y="1430.3">+</tspan><tspan x="1490.7" y="1450.3">+</tspan><tspan x="1490.7" y="1470.3">+</tspan><tspan x="1490.7" y="1490.3">+</tspan><tspan x="1490.7" y="1530.3">+</tspan><tspan x="1490.7" y="1550.3">#</tspan><tspan x="1490.7" y="1570.3">-</tspan><tspan x="1490.7" y="1590.3">-</tspan><tspan x="1490.7" y="1610.3">-</tspan><tspan x="1490.7" y="1630.3">-</tspan><tspan x="1490.7" y="1650.3">-</tspan><tspan x="1490.7" y="1670.3">-</tspan><tspan x="1490.7" y="1690.3">-</tspan><tspan x="1490.7" y="1710.3">-</tspan><tspan x="1490.7" y="1730.3">-</tspan><tspan x="1490.7" y="1750.3">-</tspan></text>
<text><tspan x="1503" y="1210.7">m_mode</tspan><tspan x="1503" y="1230.7">m_read_mode</tspan><tspan x="1503" y="1250.7">m_p</tspan><tspan x="1503" y="1270.7">m_is_serialize_typeinfo</tspan><tspan x="1503" y="1290.7">m_p2</tspan><tspan x="1503" y="1310.3">BasicSerializer()</tspan><tspan x="1503" y="1330.3">BasicSerializer()</tspan><tspan x="1503" y="1350.3">~BasicSerializer()</tspan><tspan x="1503" y="1370.3">reserveSpan()</tspan><tspan x="1503" y="1390.3">reserve()</tspan><tspan x="1503" y="1410.3">reserveInteger()</tspan><tspan x="1503" y="1430.3">reserve()</tspan><tspan x="1503" y="1450.3">reserveArray()</tspan><tspan x="1503" y="1470.3">reserveArray()</tspan><tspan x="1503" y="1490.3">reserveArray()</tspan><tspan x="1503" y="1510.3">et 149 de plus...</tspan><tspan x="1503" y="1530.3">paddingSize()</tspan><tspan x="1503" y="1550.3">_p()</tspan><tspan x="1503" y="1570.3">operator=()</tspan><tspan x="1503" y="1590.3">allocateBuffer()</tspan><tspan x="1503" y="1610.3">_setViews()</tspan><tspan x="1503" y="1630.3">reserveSpan()</tspan><tspan x="1503" y="1650.3">reserveSpan()</tspan><tspan x="1503" y="1670.3">reserveSpan()</tspan><tspan x="1503" y="1690.3">reserveSpan()</tspan><tspan x="1503" y="1710.3">reserveSpan()</tspan><tspan x="1503" y="1730.3">reserveSpan()</tspan><tspan x="1503" y="1750.3">reserveSpan()</tspan><tspan x="1503" y="1770.3">et 13 de plus...</tspan></text></g>

<g id="iserializer"><rect class="nb" x="787.7" y="831.6" width="136.3" height="265.4"/><path class="sep" d="M787.7,854.9h136.3M787.7,875.7h136.3"/>
<text class="c" x="855.85" y="848.5">Arccore::ISerializer</text>
<text class="c"><tspan x="801" y="889.1">+</tspan><tspan x="801" y="909.1">+</tspan><tspan x="801" y="929.1">+</tspan><tspan x="801" y="949.1">+</tspan><tspan x="801" y="969.1">+</tspan><tspan x="801" y="989.1">+</tspan><tspan x="801" y="1009.1">+</tspan><tspan x="801" y="1029.1">+</tspan><tspan x="801" y="1049.1">+</tspan><tspan x="801" y="1069.1">+</tspan></text>
<text><tspan x="816" y="889.1">~ISerializer()</tspan><tspan x="816" y="909.1">reserveSpan()</tspan><tspan x="816" y="929.1">reserveSpan()</tspan><tspan x="816" y="949.1">reserveSpan()</tspan><tspan x="816" y="969.1">reserveSpan()</tspan><tspan x="816" y="989.1">reserveSpan()</tspan><tspan x="816" y="1009.1">reserveSpan()</tspan><tspan x="816" y="1029.1">reserveSpan()</tspan><tspan x="816" y="1049.1">reserveSpan()</tspan><tspan x="816" y="1069.1">reserveSpan()</tspan><tspan x="816" y="1089.1">et 99 de plus...</tspan></text></g>

<g id="impl"><rect class="ne" x="947.7" y="931.6" width="43.3" height="65.7"/><path class="sepe" d="M947.7,955.3h43.3M947.7,975.3h43.3"/>
<text class="c" x="969.35" y="948.9">Impl</text></g>

<g id="impl2"><rect class="ne" x="1014.7" y="931.6" width="50.6" height="65.7"/><path class="sepe" d="M1014.7,955.3h50.6M1014.7,975.3h50.6"/>
<text class="c" x="1040" y="948.9">Impl2</text></g>

<g id="size_t"><rect class="ne" x="648.3" y="586.3" width="52.4" height="65.3"/><path class="sepe" d="M648.3,610h52.4M648.3,630h52.4"/>
<text class="c" x="674.5" y="603.6">size_t</text></g>

<g id="message_union"><rect class="ne" x="585.3" y="894.5" width="178.7" height="140"/><path class="sepe" d="M585.3,932.9h178.7M585.3,1012.9h178.7"/>
<text class="c"><tspan x="674.65" y="911.3">Arccore::MessagePassing</tspan><tspan x="674.65" y="926">::MessageId::_Message</tspan></text>
<text class="c"><tspan x="629.3" y="946">+</tspan><tspan x="629.3" y="966">+</tspan><tspan x="629.3" y="986">+</tspan><tspan x="629.3" y="1006">+</tspan></text>
<text><tspan x="674" y="946">i</tspan><tspan x="674" y="966">l</tspan><tspan x="674" y="986">v</tspan><tspan x="674" y="1006">cv</tspan></text></g>

<g id="messagerank"><rect class="nb" x="154.7" y="488.7" width="178.6" height="260.6"/><path class="sep" d="M154.7,527h178.6M154.7,547.2h178.6"/>
<text class="c"><tspan x="244" y="506.3">Arccore::MessagePassing</tspan><tspan x="244" y="521">::MessageRank</tspan></text>
<text class="c"><tspan x="174.7" y="541.1">-</tspan><tspan x="174.7" y="560.6">+</tspan><tspan x="174.7" y="580.6">+</tspan><tspan x="174.7" y="600.6">+</tspan><tspan x="174.7" y="620.6">+</tspan><tspan x="174.7" y="640.6">+</tspan><tspan x="174.7" y="660.6">+</tspan><tspan x="174.7" y="680.6">+</tspan><tspan x="174.7" y="700.6">+</tspan><tspan x="174.7" y="720.6">+</tspan><tspan x="174.7" y="740.6">+</tspan></text>
<text><tspan x="196" y="541.1">m_rank</tspan><tspan x="196" y="560.6">MessageRank()</tspan><tspan x="196" y="580.6">MessageRank()</tspan><tspan x="196" y="600.6">value()</tspan><tspan x="196" y="620.6">setValue()</tspan><tspan x="196" y="640.6">isNull()</tspan><tspan x="196" y="660.6">isAnySource()</tspan><tspan x="196" y="680.6">isProcNull()</tspan><tspan x="196" y="700.6">print()</tspan><tspan x="196" y="720.6">anySourceRank()</tspan><tspan x="196" y="740.6">procNullRank()</tspan></text></g>

<g id="messagetag"><rect class="nb" x="369.3" y="519.1" width="178.7" height="200.1"/><path class="sep" d="M369.3,556.3h178.7M369.3,596.6h178.7"/>
<text class="c"><tspan x="458.65" y="535.2">Arccore::MessagePassing</tspan><tspan x="458.65" y="550.2">::MessageTag</tspan></text>
<text class="c"><tspan x="382.3" y="570">+</tspan><tspan x="382.3" y="590">-</tspan><tspan x="382.3" y="610">+</tspan><tspan x="382.3" y="630">+</tspan><tspan x="382.3" y="650">+</tspan><tspan x="382.3" y="670">+</tspan><tspan x="382.3" y="690">+</tspan><tspan x="382.3" y="710">+</tspan></text>
<text><tspan x="397.7" y="570">DEFAULT_TAG_VALUE</tspan><tspan x="397.7" y="590">m_tag</tspan><tspan x="397.7" y="610">MessageTag()</tspan><tspan x="397.7" y="630">MessageTag()</tspan><tspan x="397.7" y="650">value()</tspan><tspan x="397.7" y="670">isNull()</tspan><tspan x="397.7" y="690">print()</tspan><tspan x="397.7" y="710">defaultTag()</tspan></text></g>

<g id="messagesourceinfo"><rect class="nb" x="382.7" y="844.6" width="178.6" height="239.6"/><path class="sep" d="M382.7,882.1h178.6M382.7,902.3h178.6"/>
<text class="c"><tspan x="472" y="861">Arccore::MessagePassing</tspan><tspan x="472" y="875.3">::MessageSourceInfo</tspan></text>
<text class="c"><tspan x="397" y="895.8">-</tspan><tspan x="397" y="914.8">+</tspan><tspan x="397" y="934.8">+</tspan><tspan x="397" y="954.8">+</tspan><tspan x="397" y="974.8">+</tspan><tspan x="397" y="994.8">+</tspan><tspan x="397" y="1014.8">+</tspan><tspan x="397" y="1034.8">+</tspan><tspan x="397" y="1054.8">+</tspan><tspan x="397" y="1074.8">+</tspan></text>
<text><tspan x="412.7" y="895.8">m_size</tspan><tspan x="412.7" y="914.8">MessageSourceInfo()</tspan><tspan x="412.7" y="934.8">MessageSourceInfo()</tspan><tspan x="412.7" y="954.8">rank()</tspan><tspan x="412.7" y="974.8">setRank()</tspan><tspan x="412.7" y="994.8">tag()</tspan><tspan x="412.7" y="1014.8">setTag()</tspan><tspan x="412.7" y="1034.8">size()</tspan><tspan x="412.7" y="1054.8">setSize()</tspan><tspan x="412.7" y="1074.8">isValid()</tspan></text></g>

<g id="messageid"><rect class="nb" x="382.5" y="1307.3" width="176.5" height="339.7"/><path class="sep" d="M382.5,1345h176.5M382.5,1385h176.5"/>
<text class="c"><tspan x="470.75" y="1323.9">Arccore::MessagePassing</tspan><tspan x="470.75" y="1338.3">::MessageId</tspan></text>
<text class="c"><tspan x="398.6" y="1358.9">-</tspan><tspan x="398.6" y="1378.9">-</tspan><tspan x="398.6" y="1398.6">+</tspan><tspan x="398.6" y="1418.6">+</tspan><tspan x="398.6" y="1438.6">+</tspan><tspan x="398.6" y="1458.6">+</tspan><tspan x="398.6" y="1478.6">+</tspan><tspan x="398.6" y="1498.6">+</tspan><tspan x="398.6" y="1518.6">+</tspan><tspan x="398.6" y="1538.6">+</tspan><tspan x="398.6" y="1558.6">+</tspan><tspan x="398.6" y="1578.6">+</tspan><tspan x="398.6" y="1618.6">+</tspan><tspan x="398.6" y="1638.6">+</tspan></text>
<text><tspan x="416.4" y="1358.9">m_type</tspan><tspan x="416.4" y="1378.9">m_return_value</tspan><tspan x="416.4" y="1398.6">MessageId()</tspan><tspan x="416.4" y="1418.6">MessageId()</tspan><tspan x="416.4" y="1438.6">MessageId()</tspan><tspan x="416.4" y="1458.6">MessageId()</tspan><tspan x="416.4" y="1478.6">MessageId()</tspan><tspan x="416.4" y="1498.6">MessageId()</tspan><tspan x="416.4" y="1518.6">MessageId()</tspan><tspan x="416.4" y="1538.6">operator=()</tspan><tspan x="416.4" y="1558.6">operator const T *()</tspan><tspan x="416.4" y="1578.6">operator T*()</tspan><tspan x="416.4" y="1598.6">et 26 de plus...</tspan><tspan x="416.4" y="1618.6">setNullMessage()</tspan><tspan x="416.4" y="1638.6">setNullMessage()</tspan></text></g>

<g id="iserializemessage"><rect class="nb" x="5" y="1337" width="178.9" height="280"/><path class="sep" d="M5,1374.3h178.9M5,1394.7h178.9"/>
<text class="c"><tspan x="94.45" y="1353.6">Arccore::MessagePassing</tspan><tspan x="94.45" y="1367.9">::ISerializeMessage</tspan></text>
<text class="c"><tspan x="18.6" y="1408.3">+</tspan><tspan x="18.6" y="1428.3">+</tspan><tspan x="18.6" y="1448.3">+</tspan><tspan x="18.6" y="1468.3">+</tspan><tspan x="18.6" y="1488.3">+</tspan><tspan x="18.6" y="1508.3">+</tspan><tspan x="18.6" y="1528.3">+</tspan><tspan x="18.6" y="1548.3">+</tspan><tspan x="18.6" y="1568.3">+</tspan><tspan x="18.6" y="1588.3">+</tspan></text>
<text><tspan x="33.2" y="1408.3">~ISerializeMessage()</tspan><tspan x="33.2" y="1428.3">isSend()</tspan><tspan x="33.2" y="1448.3">messageType()</tspan><tspan x="33.2" y="1468.3">destRank()</tspan><tspan x="33.2" y="1488.3">destination()</tspan><tspan x="33.2" y="1508.3">origRank()</tspan><tspan x="33.2" y="1528.3">source()</tspan><tspan x="33.2" y="1548.3">serializer()</tspan><tspan x="33.2" y="1568.3">finished()</tspan><tspan x="33.2" y="1588.3">setFinished()</tspan><tspan x="33.2" y="1608.3">et 8 de plus...</tspan></text></g>

<g id="basicserializemessage"><rect class="nb" x="231" y="1843" width="229" height="676.4"/><path class="sep" d="M231,1879.9h229M231,2054.9h229"/>
<text class="c"><tspan x="345.5" y="1859">Arccore::MessagePassing</tspan><tspan x="345.5" y="1873.6">::internal::BasicSerializeMessage</tspan></text>
<text class="c"><tspan x="249" y="1893.1">+</tspan><tspan x="249" y="1928.4">-</tspan><tspan x="249" y="1948.4">-</tspan><tspan x="249" y="1968.5">-</tspan><tspan x="249" y="1988.5">-</tspan><tspan x="249" y="2008.6">-</tspan><tspan x="249" y="2028.6">-</tspan><tspan x="249" y="2048.1">-</tspan><tspan x="249" y="2069.3">+</tspan><tspan x="249" y="2089.3">+</tspan><tspan x="249" y="2109.3">+</tspan><tspan x="249" y="2129.3">+</tspan><tspan x="249" y="2149.3">+</tspan><tspan x="249" y="2169.3">+</tspan><tspan x="249" y="2189.3">+</tspan><tspan x="249" y="2209.3">+</tspan><tspan x="249" y="2229.3">+</tspan><tspan x="249" y="2249.3">+</tspan><tspan x="249" y="2289.3">+</tspan><tspan x="249" y="2309.3">+</tspan><tspan x="249" y="2329.3">+</tspan><tspan x="249" y="2349.3">+</tspan><tspan x="249" y="2369.3">#</tspan><tspan x="249" y="2389.3">#</tspan><tspan x="249" y="2409.3">#</tspan><tspan x="249" y="2429.3">#</tspan><tspan x="249" y="2449.3">#</tspan><tspan x="249" y="2469.3">#</tspan><tspan x="249" y="2489.3">#</tspan><tspan x="249" y="2509.3">-</tspan></text>
<text><tspan x="268.7" y="1893.1">DEFAULT_SERIALIZE_TAG</tspan><tspan x="268.7" y="1907.2">_VALUE</tspan><tspan x="268.7" y="1928.4">m_old_message_type</tspan><tspan x="268.7" y="1948.4">m_message_type</tspan><tspan x="268.7" y="1968.5">m_strategy</tspan><tspan x="268.7" y="1988.5">m_is_send</tspan><tspan x="268.7" y="2008.6">m_finished</tspan><tspan x="268.7" y="2028.6">m_message_number</tspan><tspan x="268.7" y="2048.1">m_is_processed</tspan><tspan x="268.7" y="2069.3">~BasicSerializeMessage()</tspan><tspan x="268.7" y="2089.3">operator=()</tspan><tspan x="268.7" y="2109.3">BasicSerializeMessage()</tspan><tspan x="268.7" y="2129.3">isSend()</tspan><tspan x="268.7" y="2149.3">messageType()</tspan><tspan x="268.7" y="2169.3">destRank()</tspan><tspan x="268.7" y="2189.3">origRank()</tspan><tspan x="268.7" y="2209.3">destination()</tspan><tspan x="268.7" y="2229.3">source()</tspan><tspan x="268.7" y="2249.3">serializer()</tspan><tspan x="268.7" y="2269.3">et 16 de plus...</tspan><tspan x="268.7" y="2289.3">defaultTag()</tspan><tspan x="268.7" y="2309.3">create()</tspan><tspan x="268.7" y="2329.3">create()</tspan><tspan x="268.7" y="2349.3">create()</tspan><tspan x="268.7" y="2369.3">BasicSerializeMessage()</tspan><tspan x="268.7" y="2389.3">BasicSerializeMessage()</tspan><tspan x="268.7" y="2409.3">BasicSerializeMessage()</tspan><tspan x="268.7" y="2429.3">BasicSerializeMessage()</tspan><tspan x="268.7" y="2449.3">BasicSerializeMessage()</tspan><tspan x="268.7" y="2469.3">_toP2PType()</tspan><tspan x="268.7" y="2489.3">_toMessageType()</tspan><tspan x="268.7" y="2509.3">_init()</tspan></text></g>

<g id="serializemessage"><rect class="cur" x="254.3" y="2568.2" width="181.7" height="107.3"/><path class="sep" d="M254.3,2592.6h181.7M254.3,2611.6h181.7"/>
<text class="c" x="345.15" y="2585.6">Arcane::SerializeMessage</text>
<text class="c"><tspan x="271.7" y="2625.9">+</tspan><tspan x="271.7" y="2645.5">+</tspan><tspan x="271.7" y="2664.6">+</tspan></text>
<text><tspan x="291" y="2625.9">SerializeMessage()</tspan><tspan x="291" y="2645.5">SerializeMessage()</tspan><tspan x="291" y="2664.6">buffer()</tspan></text></g>
</svg>
